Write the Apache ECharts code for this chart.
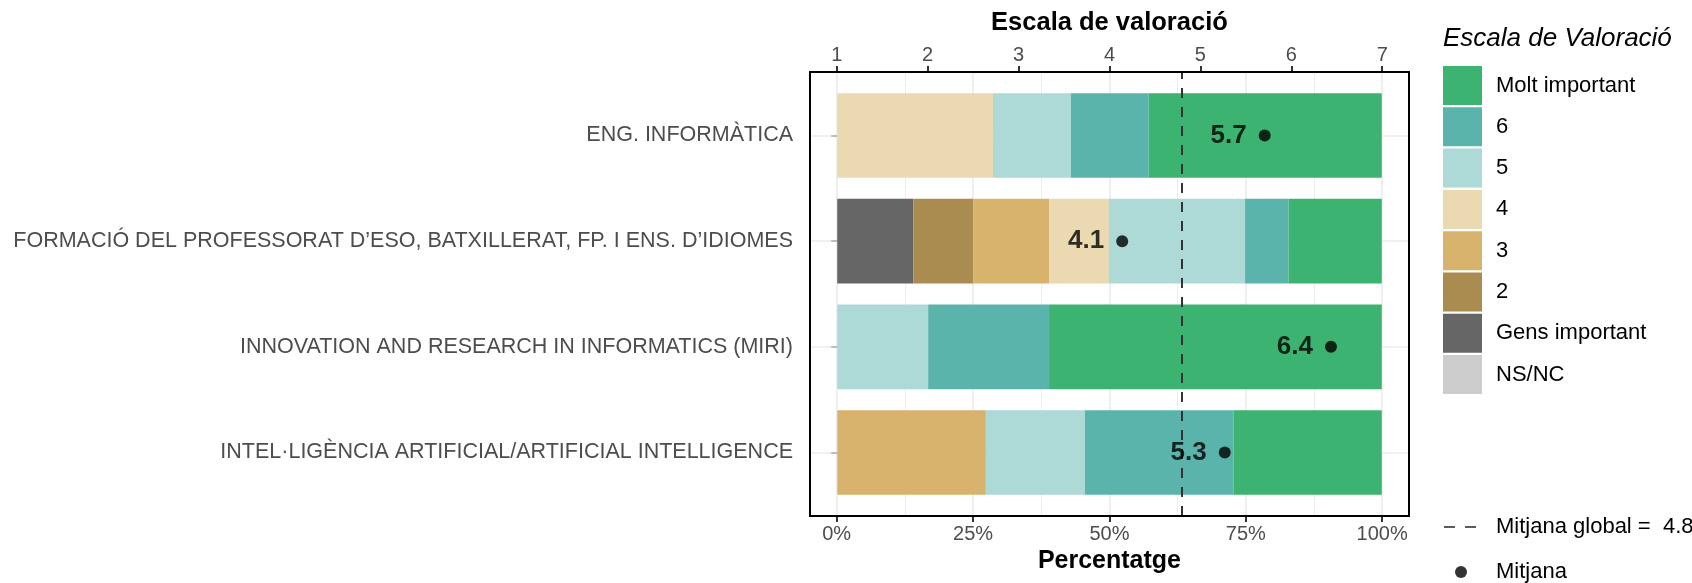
<!DOCTYPE html>
<html>
<head>
<meta charset="UTF-8"/>
<script src="https://cdn.jsdelivr.net/npm/echarts@6/dist/echarts.min.js"></script>
</head>
<body style="margin:0;background:#FFFFFF">
<div id="c" style="width:1692px;height:583px;"></div>
<script>
// dades
const categories = [
    "ENG. INFORMÀTICA",
    "FORMACIÓ DEL PROFESSORAT D’ESO, BATXILLERAT, FP. I ENS. D’IDIOMES",
    "INNOVATION AND RESEARCH IN INFORMATICS (MIRI)",
    "INTEL·LIGÈNCIA ARTIFICIAL/ARTIFICIAL INTELLIGENCE"
];
const levels = ["Gens important", "2", "3", "4", "5", "6", "Molt important", "NS/NC"];
const levelColors = ["#666666", "#AB8C50", "#D8B36E", "#EBD9B2", "#ADD9D6", "#5AB4AC", "#3CB371", "#CCCCCC"];
const legendOrder = ["Molt important", "6", "5", "4", "3", "2", "Gens important", "NS/NC"];

// percentatge per nivell, en l'ordre de categories
const pctGens = [0, 14.0, 0, 0];
const pct2 = [0, 11.0, 0, 0];
const pct3 = [0, 13.9, 0, 27.3];
const pct4 = [28.6, 11.0, 0, 0];
const pct5 = [14.3, 25.0, 16.7, 18.2];
const pct6 = [14.3, 8.0, 22.2, 27.3];
const pctMolt = [42.8, 17.1, 61.1, 27.2];
const pctNsnc = [0, 0, 0, 0];
const pctByLevel = [pctGens, pct2, pct3, pct4, pct5, pct6, pctMolt, pctNsnc];

const means = [5.71, 4.14, 6.44, 5.27];
const globalMean = 4.8;
const globalName = "Mitjana global =  " + globalMean;

const FONT = "Liberation Sans";
const GREY = "#4D4D4D";
const GRIDC = "#EBEBEB";

// panell: 810..1409 x 72..516 ; dades 0-100% a 836.7..1382
const P = { left: 810, top: 72, width: 599, height: 444 };
const D = { left: 836.7, width: 545.5 };
const band = P.height / (categories.length + 0.2);

const chart = echarts.init(document.getElementById("c"), null, { renderer: "canvas" });

const barSeries = levels.map((name, i) => ({
    name,
    type: "bar",
    stack: "total",
    xAxisIndex: 3,
    yAxisIndex: 2,
    barWidth: "80%",
    itemStyle: { color: levelColors[i] },
    emphasis: { disabled: true },
    data: pctByLevel[i],
    z: 2
}));

const tickStyle = { show: true, length: 6, lineStyle: { color: "#333333", width: 2 } };
const legendText = { fontSize: 22, color: "#000", fontFamily: FONT };

chart.setOption({
    animation: false,
    textStyle: { fontFamily: FONT },
    title: {
        text: "Escala de Valoració",
        left: 1443,
        top: 26,
        padding: 0,
        textStyle: { fontFamily: FONT, fontSize: 26, fontStyle: "italic", fontWeight: "normal", color: "#000" }
    },
    grid: [
        { left: P.left, top: P.top, width: P.width, height: P.height, show: true, borderColor: "#000", borderWidth: 2, backgroundColor: "transparent", z: 5 },
        { left: D.left, top: P.top, width: D.width, height: P.height },
        { left: P.left, top: P.top + 0.1 * band, width: P.width, height: band * categories.length }
    ],
    xAxis: [
        { gridIndex: 0, type: "value", show: false },
        {
            gridIndex: 1, type: "value", min: 0, max: 100, interval: 25, position: "bottom",
            axisLine: { show: false }, axisTick: tickStyle,
            axisLabel: { formatter: "{value}%", color: GREY, fontSize: 20, margin: 8, fontFamily: FONT },
            splitLine: { show: true, lineStyle: { color: GRIDC, width: 1.6 } },
            minorTick: { show: false, splitNumber: 2 },
            minorSplitLine: { show: true, lineStyle: { color: GRIDC, width: 0.9 } },
            name: "Percentatge", nameLocation: "middle", nameGap: 33,
            nameTextStyle: { fontSize: 25, fontWeight: "bold", color: "#000", fontFamily: FONT }
        },
        {
            gridIndex: 1, type: "value", min: 1, max: 7, interval: 1, position: "top",
            axisLine: { show: false }, axisTick: tickStyle,
            axisLabel: { color: GREY, fontSize: 20, margin: 7, fontFamily: FONT },
            splitLine: { show: false },
            name: "Escala de valoració", nameLocation: "middle", nameGap: 36,
            nameTextStyle: { fontSize: 25.5, fontWeight: "bold", color: "#000", fontFamily: FONT }
        },
        { gridIndex: 2, type: "value", min: -5, max: 105, show: false },
        { gridIndex: 2, type: "value", min: 0.7, max: 7.3, show: false }
    ],
    yAxis: [
        { gridIndex: 0, type: "value", show: false },
        { gridIndex: 1, type: "value", show: false, min: 0, max: 1 },
        {
            gridIndex: 2, type: "category", data: categories, inverse: true,
            axisLine: { show: false },
            axisTick: Object.assign({ alignWithLabel: true }, tickStyle),
            axisLabel: { color: GREY, fontSize: 21.5, margin: 17, fontFamily: FONT },
            splitLine: { show: false }
        }
    ],
    legend: [
        {
            data: legendOrder, orient: "vertical", left: 1443, top: 66, padding: 0,
            icon: "rect", itemWidth: 39, itemHeight: 39, itemGap: 2.3,
            selectedMode: false,
            textStyle: Object.assign({ padding: [0, 0, 0, 9] }, legendText)
        },
        {
            data: [{ name: globalName, icon: "path://M0,0H11V2H0Z M21,0H32V2H21Z" }],
            orient: "vertical", left: 1444, top: 516, padding: 0,
            itemWidth: 32, itemHeight: 2, selectedMode: false,
            textStyle: Object.assign({ padding: [0, 0, 0, 15] }, legendText)
        },
        {
            data: ["Mitjana"], orient: "vertical", left: 1455, top: 561, padding: 0,
            icon: "circle", itemWidth: 12, itemHeight: 12, selectedMode: false,
            textStyle: Object.assign({ padding: [0, 0, 0, 24] }, legendText)
        }
    ],
    series: [
        {
            // línies horitzontals de la graella a cada categoria
            type: "scatter", xAxisIndex: 3, yAxisIndex: 2, data: [], silent: true, z: 1,
            markLine: {
                silent: true, symbol: "none", label: { show: false }, z: 1,
                lineStyle: { color: GRIDC, width: 1.6, type: "solid" },
                data: categories.map(c => ({ yAxis: c }))
            }
        },
        ...barSeries,
        {
            name: globalName,
            type: "scatter", xAxisIndex: 2, yAxisIndex: 1, data: [],
            itemStyle: { color: "#333333" },
            z: 3,
            markLine: {
                silent: true, symbol: "none", label: { show: false }, z: 3,
                lineStyle: { color: "#333333", width: 2, type: [10, 9] },
                data: [{ xAxis: globalMean }]
            }
        },
        {
            name: "Mitjana",
            type: "scatter", xAxisIndex: 4, yAxisIndex: 2,
            symbol: "circle", symbolSize: 12,
            itemStyle: { color: "#000" },
            z: 4,
            label: {
                show: true, position: "left", distance: 12,
                formatter: p => p.value[0].toFixed(1),
                fontSize: 26, fontWeight: "bold", color: "#000", fontFamily: FONT
            },
            data: means.map((m, i) => [m, categories[i]])
        }
    ]
});
</script>
</body>
</html>
